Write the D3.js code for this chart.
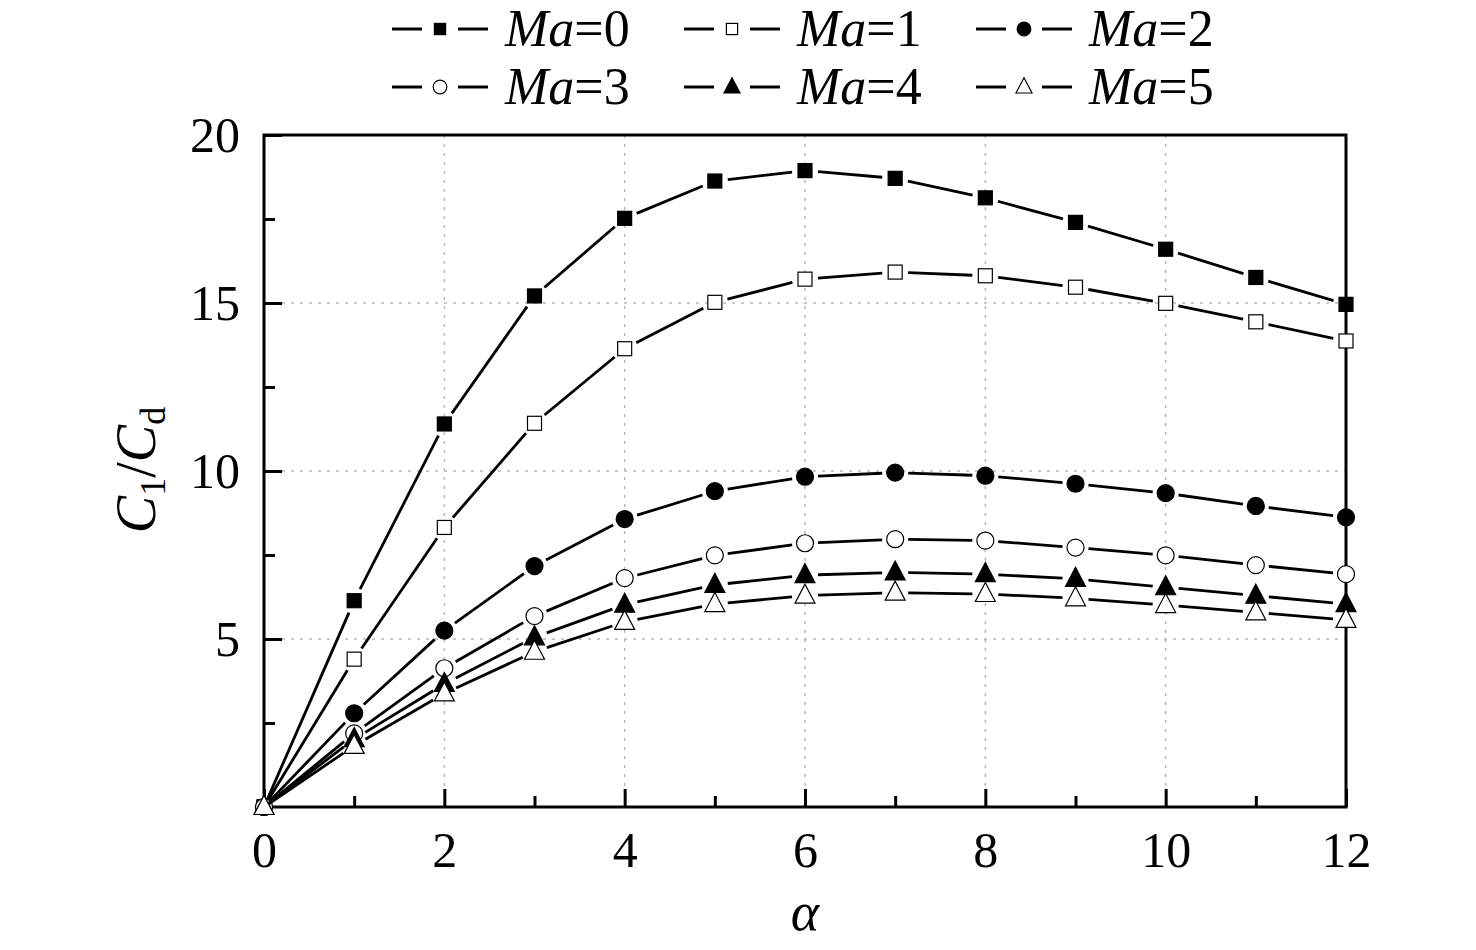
<!DOCTYPE html>
<html>
<head>
<meta charset="utf-8">
<script src="https://cdn.jsdelivr.net/npm/d3@7"></script>
<style>
  body { margin: 0; background: #fff; }
  text { font-family: "Liberation Serif", "Times New Roman", serif; fill: #000; }
</style>
</head>
<body>
<div id="chart"></div>
<script>
// angle of attack
var alphas = [0, 1, 2, 3, 4, 5, 6, 7, 8, 9, 10, 11, 12];

// lift/drag ratio for each Mach number
var ma0 = [0, 6.14, 11.40, 15.21, 17.52, 18.63, 18.94, 18.71, 18.13, 17.40, 16.60, 15.76, 14.96];
var ma1 = [0, 4.40, 8.32, 11.42, 13.64, 15.02, 15.71, 15.92, 15.81, 15.47, 14.99, 14.44, 13.87];
var ma2 = [0, 2.79, 5.25, 7.17, 8.57, 9.40, 9.83, 9.95, 9.86, 9.62, 9.34, 8.96, 8.62];
var ma3 = [0, 2.19, 4.13, 5.68, 6.81, 7.49, 7.85, 7.97, 7.93, 7.72, 7.49, 7.20, 6.93];
var ma4 = [0, 2.02, 3.66, 5.05, 6.02, 6.61, 6.90, 6.98, 6.93, 6.79, 6.54, 6.29, 6.04];
var ma5 = [0, 1.82, 3.38, 4.62, 5.51, 6.04, 6.29, 6.38, 6.34, 6.21, 6.01, 5.79, 5.57];

var seriesNames = ["Ma=0", "Ma=1", "Ma=2", "Ma=3", "Ma=4", "Ma=5"];
var seriesShapes = ["square", "square", "circle", "circle", "triangle", "triangle"];
var seriesFilled = [true, false, true, false, true, false];

var xTicks = [0, 2, 4, 6, 8, 10, 12];
var xMinor = [1, 3, 5, 7, 9, 11];
var yTicks = [5, 10, 15, 20];
var yMinor = [2.5, 7.5, 12.5, 17.5];

function init() {
    var allSeries = [ma0, ma1, ma2, ma3, ma4, ma5];

    var w = 1476;
    var h = 950;
    var pL = 264, pR = 1346, pT = 135, pB = 807;

    var svg = d3.select("#chart")
        .append("svg")
        .attr("width", w)
        .attr("height", h);

    var x = d3.scaleLinear().domain([0, 12]).range([pL, pR]);
    var y = d3.scaleLinear().domain([0, 20]).range([pB, pT]);

    // dotted grid
    svg.append("g").selectAll("line")
        .data([2, 4, 6, 8, 10])
        .enter().append("line")
        .attr("x1", d => x(d)).attr("x2", d => x(d))
        .attr("y1", pT).attr("y2", pB)
        .attr("stroke", "#b8b8b8").attr("stroke-width", 1.5)
        .attr("stroke-dasharray", "3,6");

    svg.append("g").selectAll("line")
        .data([5, 10, 15])
        .enter().append("line")
        .attr("x1", pL).attr("x2", pR)
        .attr("y1", d => y(d)).attr("y2", d => y(d))
        .attr("stroke", "#b8b8b8").attr("stroke-width", 1.5)
        .attr("stroke-dasharray", "3,6");

    // axes, ticks pointing inwards
    var xAxis = d3.axisBottom(x).tickValues(xTicks).tickSize(-18).tickPadding(24)
        .tickFormat(d3.format("d"));
    var xAxisMinor = d3.axisBottom(x).tickValues(xMinor).tickSize(-11).tickFormat("");
    var yAxis = d3.axisLeft(y).tickValues(yTicks).tickSize(-18).tickPadding(24)
        .tickFormat(d3.format("d"));
    var yAxisMinor = d3.axisLeft(y).tickValues(yMinor).tickSize(-11).tickFormat("");

    function styleAxis(g) {
        g.select(".domain").remove();
        g.selectAll(".tick line").attr("stroke", "#000").attr("stroke-width", 3);
        g.selectAll(".tick text").attr("font-size", 50).attr("fill", "#000")
            .attr("font-family", "Liberation Serif, Times New Roman, serif");
    }

    svg.append("g").attr("transform", "translate(0," + pB + ")").call(xAxisMinor).call(styleAxis);
    svg.append("g").attr("transform", "translate(0," + pB + ")").call(xAxis).call(styleAxis);
    svg.append("g").attr("transform", "translate(" + pL + ",0)").call(yAxisMinor).call(styleAxis);
    svg.append("g").attr("transform", "translate(" + pL + ",0)").call(yAxis).call(styleAxis);

    // frame
    svg.append("rect")
        .attr("x", pL).attr("y", pT)
        .attr("width", pR - pL).attr("height", pB - pT)
        .attr("fill", "none").attr("stroke", "#000").attr("stroke-width", 3);

    // marker drawing
    function drawMarker(g, shape, filled, cx, cy, scale) {
        var fill = filled ? "#000" : "#fff";
        var m;
        if (shape === "square") {
            var s = 14 * scale;
            m = g.append("rect").attr("x", cx - s / 2).attr("y", cy - s / 2)
                .attr("width", s).attr("height", s);
        } else if (shape === "circle") {
            m = g.append("circle").attr("cx", cx).attr("cy", cy).attr("r", 8.5 * scale);
        } else {
            var t = 10 * scale;
            m = g.append("path").attr("d",
                "M" + cx + "," + (cy - t * 1.15) +
                "L" + (cx + t) + "," + (cy + t * 0.75) +
                "L" + (cx - t) + "," + (cy + t * 0.75) + "Z");
        }
        m.attr("fill", fill).attr("stroke", "#000").attr("stroke-width", 1.2);
    }

    // series: broken line segments with a gap round each marker
    var gap = 13;
    allSeries.forEach(function(vals, si) {
        var g = svg.append("g");
        for (var i = 0; i < alphas.length - 1; i++) {
            var x1 = x(alphas[i]), y1 = y(vals[i]);
            var x2 = x(alphas[i + 1]), y2 = y(vals[i + 1]);
            var dx = x2 - x1, dy = y2 - y1;
            var len = Math.sqrt(dx * dx + dy * dy);
            var g0 = i === 0 ? 4 : gap;
            if (len <= g0 + gap) continue;
            g.append("line")
                .attr("x1", x1 + dx * g0 / len).attr("y1", y1 + dy * g0 / len)
                .attr("x2", x2 - dx * gap / len).attr("y2", y2 - dy * gap / len)
                .attr("stroke", "#000").attr("stroke-width", 2.8);
        }
        alphas.forEach(function(a, i) {
            drawMarker(g, seriesShapes[si], seriesFilled[si], x(a), y(vals[i]), 1);
        });
    });

    // legend
    var legCols = [392, 684, 976];
    var legRows = [29, 87];
    seriesNames.forEach(function(name, i) {
        var lx = legCols[i % 3], ly = legRows[Math.floor(i / 3)];
        var g = svg.append("g");
        g.append("line").attr("x1", lx).attr("x2", lx + 30).attr("y1", ly).attr("y2", ly)
            .attr("stroke", "#000").attr("stroke-width", 3);
        g.append("line").attr("x1", lx + 66).attr("x2", lx + 96).attr("y1", ly).attr("y2", ly)
            .attr("stroke", "#000").attr("stroke-width", 3);
        drawMarker(g, seriesShapes[i], seriesFilled[i], lx + 48, ly, 0.8);
        var t = g.append("text").attr("x", lx + 113).attr("y", ly + 17)
            .attr("font-size", 52);
        t.append("tspan").attr("font-style", "italic").text("Ma");
        t.append("tspan").text(name.slice(2));
    });

    // axis titles
    svg.append("text")
        .attr("x", (pL + pR) / 2).attr("y", 930)
        .attr("text-anchor", "middle")
        .attr("font-size", 54).attr("font-style", "italic")
        .text("\u03b1");

    var yl = svg.append("text")
        .attr("transform", "translate(155,470) rotate(-90)")
        .attr("text-anchor", "middle")
        .attr("font-size", 56);
    yl.append("tspan").attr("font-style", "italic").text("C");
    yl.append("tspan").attr("font-size", 36).attr("dy", 10).text("1");
    yl.append("tspan").attr("dy", -10).text("/");
    yl.append("tspan").attr("font-style", "italic").text("C");
    yl.append("tspan").attr("font-size", 36).attr("dy", 10).text("d");
}

window.onload = init;
</script>
</body>
</html>
